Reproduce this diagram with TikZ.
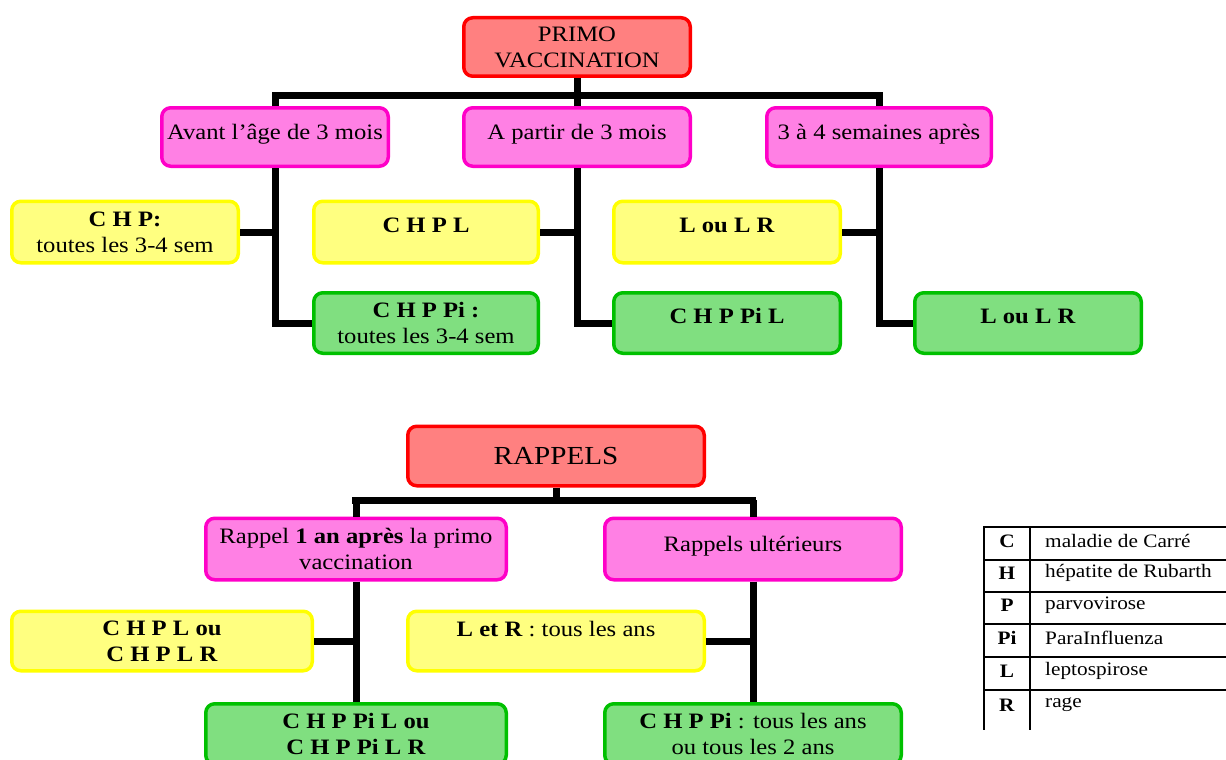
\documentclass[tikz,border=0pt]{standalone}
\usepackage{fontspec}
\setmainfont[FakeStretch=1.12]{Liberation Serif}
\definecolor{bred}{HTML}{FF0000}
\definecolor{bpink}{HTML}{FF00C8}
\definecolor{byel}{HTML}{FFFF00}
\definecolor{bgreen}{HTML}{00C000}
\tikzset{
  box/.style={draw, rounded corners=9pt, line width=3.5pt, align=center, inner sep=1pt,
    font=\fontsize{22}{26}\selectfont},
  redbox/.style={box, draw=bred, fill=bred!50},
  pinkbox/.style={box, draw=bpink, fill=bpink!50},
  yelbox/.style={box, draw=byel, fill=byel!50},
  greenbox/.style={box, draw=bgreen, fill=bgreen!50},
  sz/.style 2 args={minimum width=#1pt-3.5pt, minimum height=#2pt-3.5pt},
  up/.style={text height=15pt, text depth=#1pt},
  conn/.style={line width=7pt, line join=miter, line cap=butt},
  tline/.style={line width=2pt},
  tfont/.style={font=\fontsize{19}{22}\selectfont, inner sep=0pt}
}
\begin{document}
\begin{tikzpicture}[x=1pt,y=-1pt]
\path[use as bounding box, clip] (0,0) rectangle (1226,760);
% ---------- PRIMO VACCINATION ----------
\node[redbox, sz={230}{62}] (primo) at (577,47) {PRIMO\\VACCINATION};
\node[pinkbox, sz={230}{62}, up=10] (p1) at (275,137) {Avant l'âge de 3 mois};
\node[pinkbox, sz={230}{62}, up=10] (p2) at (577,137) {A partir de 3 mois};
\node[pinkbox, sz={228}{62}, up=10] (p3) at (879,137) {3 à 4 semaines après};
\node[yelbox, sz={230}{65}] (y1) at (125,232) {\textbf{C H P:}\\toutes les 3-4 sem};
\node[yelbox, sz={228}{65}, up=14] (y2) at (426,232) {\textbf{C H P L}};
\node[yelbox, sz={230}{65}, up=14] (y3) at (727,232) {\textbf{L ou L R}};
\node[greenbox, sz={228}{64}] (g1) at (426,323) {\textbf{C H P Pi :}\\toutes les 3-4 sem};
\node[greenbox, sz={230}{64}, up=14] (g2) at (727,323) {\textbf{C H P Pi L}};
\node[greenbox, sz={230}{64}, up=14] (g3) at (1028,323) {\textbf{L ou L R}};
\coordinate (bl) at (272,95);
\coordinate (br) at (883,95);
\draw[conn] (bl) -- (br);
\draw[conn] (primo.south) -- (primo.south |- bl);
\draw[conn] (p1.north) -- (p1.north |- bl);
\draw[conn] (p2.north) -- (p2.north |- bl);
\draw[conn] (p3.north) -- (p3.north |- bl);
\draw[conn] (p1.south) |- (g1.west);
\draw[conn] (p2.south) |- (g2.west);
\draw[conn] (p3.south) |- (g3.west);
\draw[conn] (y1.east) -- (y1.east -| p1.south);
\draw[conn] (y2.east) -- (y2.east -| p2.south);
\draw[conn] (y3.east) -- (y3.east -| p3.south);
% ---------- RAPPELS ----------
\node[redbox, sz={300}{63}, font=\fontsize{26}{30}\selectfont] (rap) at (556,456) {RAPPELS};
\node[pinkbox, sz={304}{65}] (q1) at (356,549) {Rappel \textbf{1 an après} la primo\\vaccination};
\node[pinkbox, sz={300}{65}, up=10] (q2) at (753,549) {Rappels ultérieurs};
\node[yelbox, sz={304}{63}] (z1) at (162,641) {\textbf{C H P L ou}\\\textbf{C H P L R}};
\node[yelbox, sz={300}{63}, up=25] (z2) at (556,641) {\textbf{L et R} : tous les ans};
\node[greenbox, sz={304}{64}] (h1) at (356,734) {\textbf{C H P Pi L ou}\\\textbf{C H P Pi L R}};
\node[greenbox, sz={300}{64}] (h2) at (753,734) {\textbf{C H P Pi} : tous les ans\\ou tous les 2 ans};
\coordinate (cl) at (352,500);
\coordinate (cr) at (756,500);
\draw[conn] (cl) -- (cr);
\draw[conn] (rap.south) -- (rap.south |- cl);
\draw[conn] (q1.north) -- (q1.north |- cl);
\draw[conn] (q2.north) -- (q2.north |- cl);
\draw[conn] (q1.south) -- (h1.north);
\draw[conn] (q2.south) -- (h2.north);
\draw[conn] (z1.east) -- (z1.east -| q1.south);
\draw[conn] (z2.east) -- (z2.east -| q2.south);
% ---------- legend table ----------
\foreach \yy in {527,560,592,624,657,690} {\draw[tline] (983,\yy) -- (1226,\yy);}
\draw[tline] (984,526) -- (984,730);
\draw[tline] (1030,526) -- (1030,730);
\node[tfont] (k1) at (1007,541) {\textbf{C}};
\node[tfont, anchor=west] (v1) at (1045,541) {maladie de Carré};
\node[tfont] (k2) at (1007,573) {\textbf{H}};
\node[tfont, anchor=west] (v2) at (1045,573) {hépatite de Rubarth};
\node[tfont] (k3) at (1007,605) {\textbf{P}};
\node[tfont, anchor=west] (v3) at (1045,605) {parvovirose};
\node[tfont] (k4) at (1007,638) {\textbf{Pi}};
\node[tfont, anchor=west] (v4) at (1045,638) {ParaInfluenza};
\node[tfont] (k5) at (1007,671) {\textbf{L}};
\node[tfont, anchor=west] (v5) at (1045,671) {leptospirose};
\node[tfont] (k6) at (1007,705) {\textbf{R}};
\node[tfont, anchor=west] (v6) at (1045,705) {rage};
\end{tikzpicture}
\end{document}
